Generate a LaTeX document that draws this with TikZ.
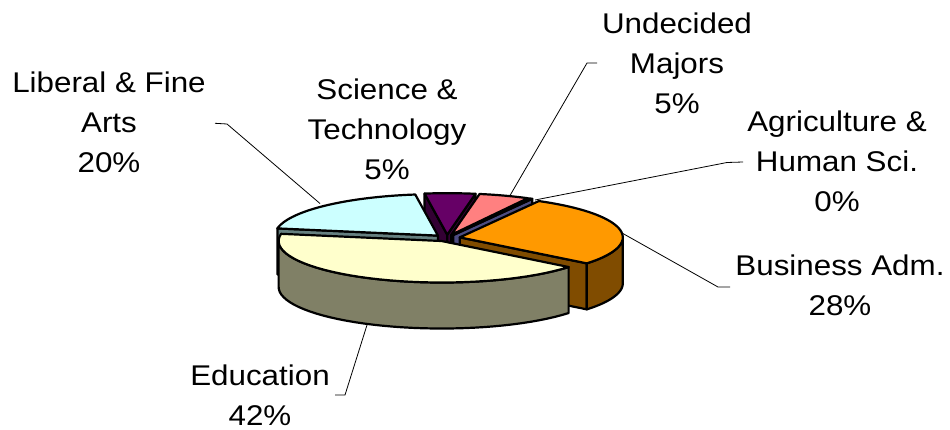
\documentclass[tikz,border=0pt]{standalone}
\usepackage{fontspec}
\setmainfont{Liberation Sans}[FakeStretch=1.1]
\newcommand\lblfont{\fontsize{28.5}{40}\selectfont}
\newcommand\lbltext[1]{\begin{tabular}[t]{@{}c@{}}#1\end{tabular}}
\definecolor{purpT}{HTML}{660066}\definecolor{purpS}{HTML}{330033}
\definecolor{pinkT}{HTML}{FF8080}\definecolor{pinkS}{HTML}{804040}
\definecolor{agriT}{HTML}{9999FF}\definecolor{agriS}{HTML}{4C4C80}
\definecolor{oranT}{HTML}{FF9900}\definecolor{oranS}{HTML}{804C00}
\definecolor{yellT}{HTML}{FFFFCC}\definecolor{yellS}{HTML}{808066}
\definecolor{cyanT}{HTML}{CCFFFF}\definecolor{cyanS}{HTML}{668080}
% #1 start angle, #2 end angle (clockwise from top), #3 top colour, #4 side colour
\newcommand\pieslice[4]{%
  \pgfmathsetmacro\pmid{(#1+#2)/2}%
  \pgfmathsetmacro\pox{0.08*163*sin(\pmid)}%
  \pgfmathsetmacro\poy{-0.08*41.5*cos(\pmid)}%
  \begin{scope}[shift={(\pox,\poy)}]
    \pgfmathtruncatemacro\pvis{sin(#1)<0}%
    \ifnum\pvis=1
      \filldraw[edge,fill=#4] (447,238) -- ({px(#1)},{py(#1)}) -- ({px(#1)},{py(#1)+46}) -- (447,284) -- cycle;
    \fi
    \pgfmathtruncatemacro\pvis{sin(#2)>0}%
    \ifnum\pvis=1
      \filldraw[edge,fill=#4] (447,238) -- ({px(#2)},{py(#2)}) -- ({px(#2)},{py(#2)+46}) -- (447,284) -- cycle;
    \fi
    \pgfmathsetmacro\pwa{max(#1,90)}%
    \pgfmathsetmacro\pwb{min(#2,270)}%
    \pgfmathtruncatemacro\pvis{\pwb>\pwa}%
    \ifnum\pvis=1
      \filldraw[edge,fill=#4] plot[domain=\pwa:\pwb,samples=40] ({px(\x)},{py(\x)})
        -- plot[domain=\pwb:\pwa,samples=40] ({px(\x)},{py(\x)+46}) -- cycle;
    \fi
    \filldraw[edge,fill=#3] (447,238) -- plot[domain=#1:#2,samples=40] ({px(\x)},{py(\x)}) -- cycle;
  \end{scope}}
\begin{document}
\begin{tikzpicture}[x=1pt,y=-1pt,
  declare function={px(\t)=447+163*sin(\t); py(\t)=238-41.5*cos(\t);},
  edge/.style={line width=2.2pt,line join=round,draw=black},
  leader/.style={line width=0.8pt,draw=black},
  lbl/.style={anchor=base,inner sep=0pt,font=\lblfont}]
\fill[white] (0,0) rectangle (950,430);
\useasboundingbox (0,0) rectangle (950,430);
% slices, back to front
\pieslice{-8}{10}{purpT}{purpS}
\pieslice{10}{28}{pinkT}{pinkS}
\pieslice{28}{29}{agriT}{agriS}
\pieslice{280}{352}{cyanT}{cyanS}
\pieslice{29}{128.8}{oranT}{oranS}
\pieslice{128.8}{280}{yellT}{yellS}
% labels
\node[lbl] (lib) at (109,93) {\lbltext{Liberal \& Fine\\Arts\\20\%}};
\node[lbl] (sci) at (387,100) {\lbltext{Science \&\\Technology\\5\%}};
\node[lbl] (und) at (677,34) {\lbltext{Undecided\\Majors\\5\%}};
\node[lbl] (agr) at (837,132) {\lbltext{Agriculture \&\\Human Sci.\\0\%}};
\node[lbl] (bus) at (840,276) {\lbltext{Business Adm.\\28\%}};
\node[lbl] (edu) at (260,385) {\lbltext{Education\\42\%}};
% leader lines
\coordinate (libA) at (215,123.3); \coordinate (libB) at (227,124); \coordinate (libC) at (320,203.5);
\coordinate (undA) at (597,63); \coordinate (undB) at (587,63); \coordinate (undC) at (510,195.5);
\coordinate (agrA) at (743,162); \coordinate (agrB) at (727,162.5); \coordinate (agrC) at (535,200);
\coordinate (busA) at (730,287); \coordinate (busB) at (718,287); \coordinate (busC) at (622,233);
\coordinate (eduA) at (335,395); \coordinate (eduB) at (345,395); \coordinate (eduC) at (367,325);
\draw[leader] (libA) -- (libB) -- (libC);
\draw[leader] (undA) -- (undB) -- (undC);
\draw[leader] (agrA) -- (agrB) -- (agrC);
\draw[leader] (busA) -- (busB) -- (busC);
\draw[leader] (eduA) -- (eduB) -- (eduC);
\end{tikzpicture}
\end{document}
